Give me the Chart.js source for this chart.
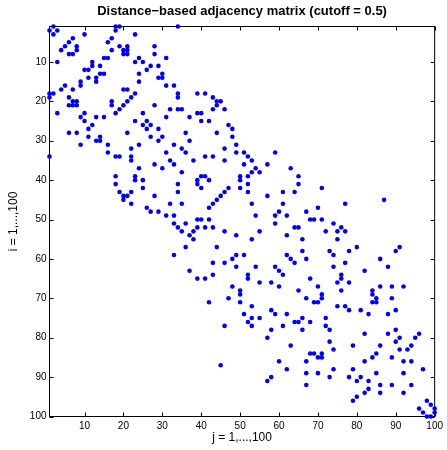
<!DOCTYPE html>
<html><head><meta charset="utf-8">
<script src="https://cdn.jsdelivr.net/npm/chart.js@4.4.0/dist/chart.umd.min.js"></script>
<style>html,body{margin:0;padding:0;background:#fff}#wrap{width:447px;height:450px}</style>
</head><body><div id="wrap"><canvas id="c" width="447" height="450"></canvas></div>
<script>
const TITLE = 'Distance\u2212based adjacency matrix (cutoff = 0.5)';
const X_LABEL = 'j = 1,...,100';
const Y_LABEL = 'i = 1,...,100';
const N = 100;
const TICKS = [10, 20, 30, 40, 50, 60, 70, 80, 90, 100];
// nonzero column indices j for each row i = 1..100
const COLS_BY_ROW = [
  [2,18,19,34], [1,3,18], [2,10,23], [7,17], [6,16],
  [5,8,19,21,28], [4,8,17,20,21], [6,7,20,21,28], [15,16,24,31], [3,12,23,25],
  [12,14,27,29], [10,11,26], [14,15,24,30], [11,13,29,30], [9,13,24],
  [5,9,31,33], [4,7,20,21], [1,2,23,34,39,41], [1,6,22,34,43], [7,8,17,21,44,45],
  [6,7,8,17,20,28,44], [19,32,34,35,43,46], [3,10,18,25,39,40], [9,13,15,31,37], [10,23,26,40,42],
  [12,25,27,47], [11,26,29,48], [6,8,21,36,44], [11,14,27,30,48], [13,14,29,37],
  [9,16,24,33,49], [22,35,46], [16,31,36,49,51,59], [1,18,19,22,41,43,52], [22,32,38,46,53],
  [28,33,51,57], [24,30,54,63], [35,53,55], [18,23,40,41,50,52,65], [23,25,39,42,50],
  [18,34,39,52,65], [25,40,47,50,71], [19,22,34,46,52,61,64], [20,21,28,45,57], [20,44,87],
  [22,32,35,43,53,61,77], [26,42,70], [27,29,60,67], [31,33,54,59,62], [39,40,42,68,69,71],
  [33,36,59,74], [34,39,41,43,64,65,76], [35,38,46,55,72,75,77], [37,49,62], [38,53,66,75],
  [], [36,44,80,91], [66,73,78,90], [33,49,51,62,74], [48,63,67,86],
  [43,46,64,77], [49,54,59,74,88], [37,60,82], [43,52,61,76], [39,41,52,68,76],
  [55,58,75,78], [48,60,70,86,89,92], [50,65,76,84], [50,71,84], [47,67,71,85,89],
  [42,50,69,70,84,85], [53,75,77], [58,78,81,90], [51,59,62,83,88], [53,55,66,72],
  [52,64,65,68], [46,53,61,72], [58,66,73,90], [82,88,96], [57,91,95],
  [73,90], [63,79,86,94], [74,91,93], [68,69,71,85], [70,71,84,89],
  [60,67,82,92,94], [45], [62,74,79,97], [67,70,85,92], [58,73,78,81],
  [57,80,83], [67,86,89,94], [83], [82,86,92], [80],
  [79,98], [99], [96,100], [97,100], [98,99]
];

const points = [];
COLS_BY_ROW.forEach((cols, r) => { cols.forEach(c => points.push({x: c, y: r + 1})); });

const FONT = "'Liberation Sans', Arial, Helvetica, sans-serif";

const frame = {
  id: 'frame',
  beforeDatasetsDraw(chart) {
    const {ctx, chartArea: a, scales: {x, y}} = chart;
    ctx.save();
    ctx.strokeStyle = '#000';
    ctx.lineWidth = 1;
    ctx.strokeRect(a.left, a.top, a.right - a.left, a.bottom - a.top);
    const L = 4;
    ctx.beginPath();
    TICKS.forEach(v => {
      const px = Math.round(x.getPixelForValue(v)) + 0.5;
      ctx.moveTo(px, a.bottom); ctx.lineTo(px, a.bottom - L);
      ctx.moveTo(px, a.top); ctx.lineTo(px, a.top + L);
      const py = Math.round(y.getPixelForValue(v)) + 0.5;
      ctx.moveTo(a.left, py); ctx.lineTo(a.left + L, py);
      ctx.moveTo(a.right, py); ctx.lineTo(a.right - L, py);
    });
    ctx.stroke();
    ctx.fillStyle = '#000';
    ctx.font = 'bold 13px ' + FONT;
    ctx.textAlign = 'center';
    ctx.textBaseline = 'middle';
    ctx.fillText(TITLE, (a.left + a.right) / 2, 11);
    ctx.restore();
  }
};

new Chart(document.getElementById('c'), {
  type: 'scatter',
  data: { datasets: [{
    data: points,
    pointRadius: 2.3, pointHoverRadius: 2.3,
    backgroundColor: '#0000ff', borderWidth: 0, pointBorderWidth: 0,
    clip: false
  }]},
  options: {
    responsive: false, animation: false, devicePixelRatio: 1,
    events: [],
    layout: { padding: { top: 26.5, right: 7.5, left: 0, bottom: 0 } },
    plugins: { legend: { display: false }, tooltip: { enabled: false }, title: { display: false } },
    scales: {
      x: {
        type: 'linear', min: 1, max: N,
        grid: { display: false, drawTicks: false }, border: { display: false },
        afterBuildTicks: s => { s.ticks = TICKS.map(v => ({value: v})); },
        afterFit: s => { s.height = 33.5; },
        ticks: { autoSkip: false, maxRotation: 0, padding: 4, color: '#000', font: { size: 10, family: FONT } },
        title: { display: true, text: X_LABEL, color: '#000', font: { size: 12, family: FONT }, padding: { top: 0, bottom: 5 } }
      },
      y: {
        type: 'linear', min: 1, max: N, reverse: true,
        grid: { display: false, drawTicks: false }, border: { display: false },
        afterBuildTicks: s => { s.ticks = TICKS.map(v => ({value: v})); },
        afterFit: s => { s.width = 49.5; },
        ticks: { autoSkip: false, padding: 3, color: '#000', font: { size: 10, family: FONT } },
        title: { display: true, text: Y_LABEL, color: '#000', font: { size: 12, family: FONT }, padding: { top: 6, bottom: 0 } }
      }
    }
  },
  plugins: [frame]
});
</script>
</body></html>
